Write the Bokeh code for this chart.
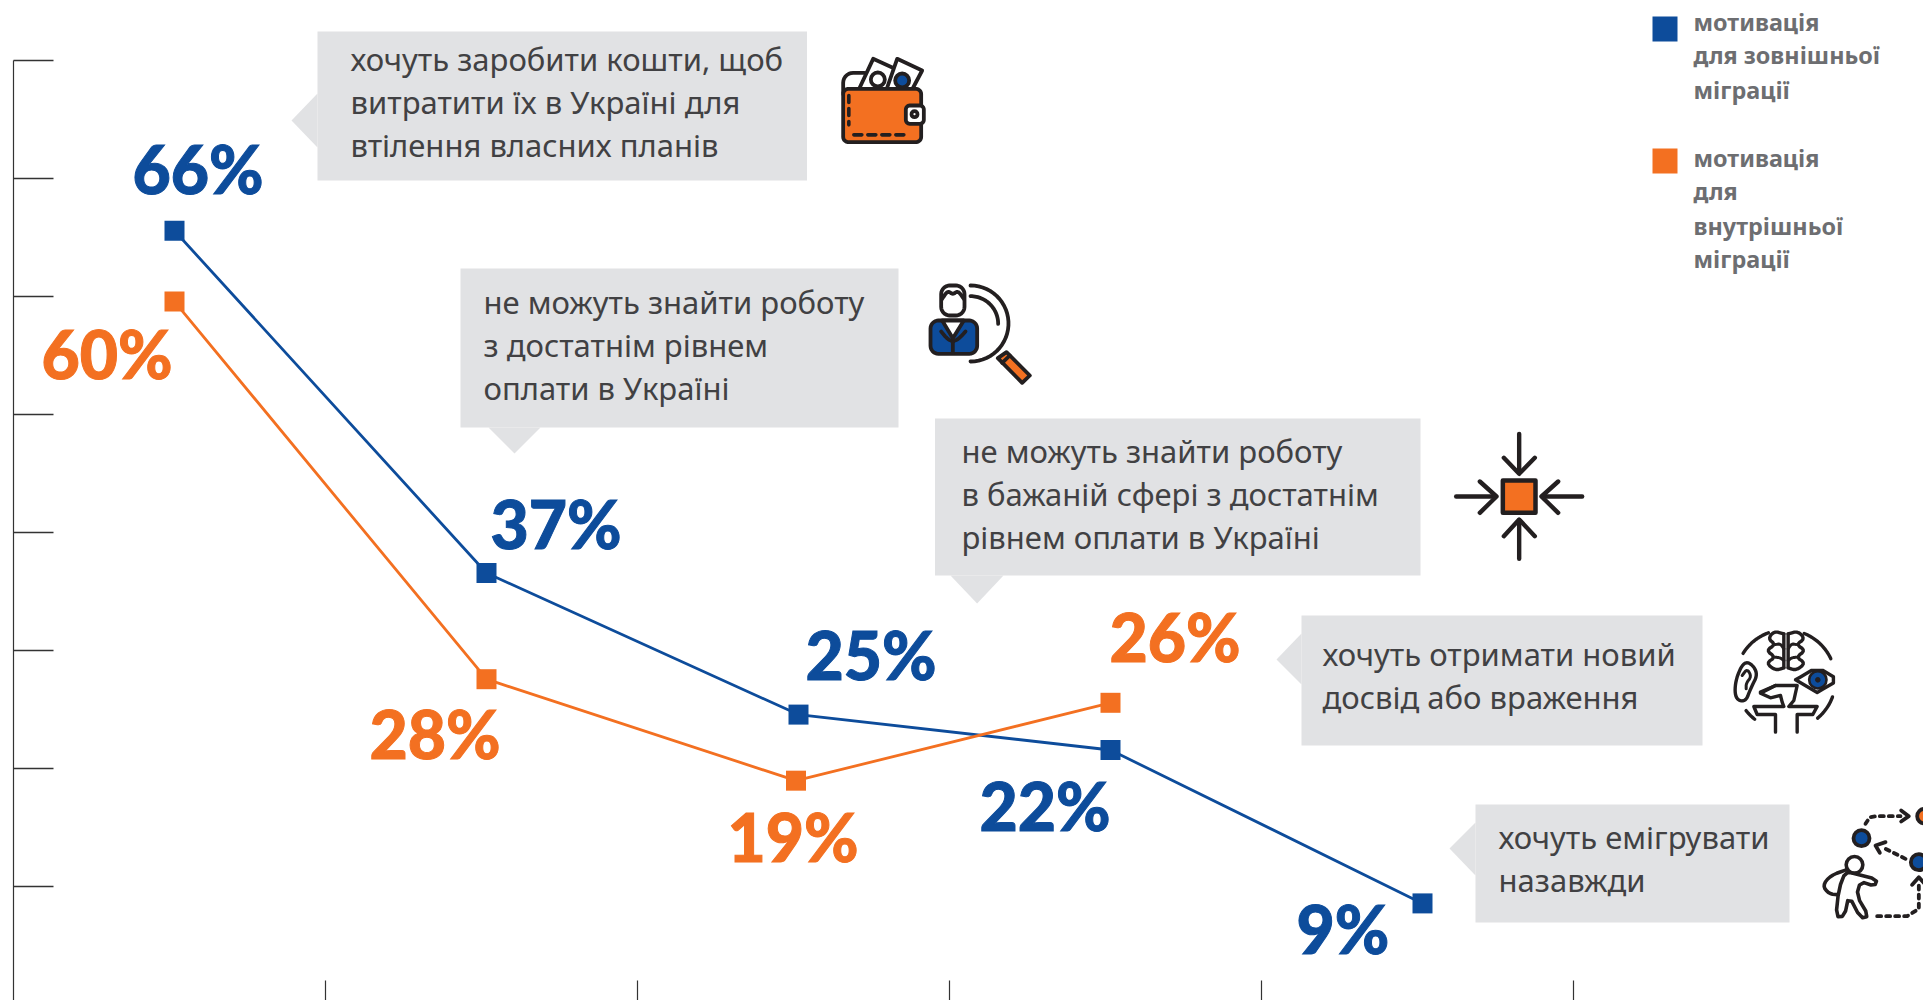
import numpy as np
from bokeh.plotting import figure
from bokeh.models import Range1d, FixedTicker, CustomLabelingPolicy
from bokeh.core.properties import value
from bokeh.embed import file_html
from bokeh.resources import INLINE

# ---------- data ----------
steps_external = [0, 1, 2, 3, 4]
values_external = [66, 37, 25, 22, 9]
labels_external = ["66%", "37%", "25%", "22%", "9%"]
steps_internal = [0, 1, 1.992, 3]
values_internal = [60, 28, 19.4, 26]
labels_internal = ["60%", "28%", "19%", "26%"]
y_ticks = [10.44, 20.44, 30.44, 40.44, 50.44, 60.44, 70.44, 80.44]
x_ticks = [0.484, 1.484, 2.484, 3.484, 4.484]
callouts = [
    ["хочуть заробити кошти, щоб", "витратити їх в Україні для", "втілення власних планів"],
    ["не можуть знайти роботу", "з достатнім рівнем", "оплати в Україні"],
    ["не можуть знайти роботу", "в бажаній сфері з достатнім", "рівнем оплати в Україні"],
    ["хочуть отримати новий", "досвід або враження"],
    ["хочуть емігрувати", "назавжди"],
]
legend_external = ["мотивація", "для зовнішньої", "міграції"]
legend_internal = ["мотивація", "для", "внутрішньої", "міграції"]

BLUE = "#0d4c9b"
ORANGE = "#f37021"
GREY = "#e1e2e4"
INK = "#231f20"
TXT = "#414143"
LEG = "#6d6e71"
BODY_FONT = value("Noto Sans")
NUM_FONT = value("Lato Black")
BASE_SHIFT = 0.41  # bokeh's svg alphabetic line sits this many em below y

W, H = 1923, 1000
X0, DX = 174.0, 312.0
Y66, DY = 230.3, 11.8
xl, xr = (0 - X0) / DX, (W - X0) / DX
yt, yb = 66 + Y66 / DY, 66 - (H - Y66) / DY
def PX(a): return (np.asarray(a, float) - X0) / DX
def PY(a): return 66 - (np.asarray(a, float) - Y66) / DY

p = figure(width=W, height=H, output_backend="svg", toolbar_location=None,
           x_range=Range1d(xl, xr), y_range=Range1d(yb, yt),
           min_border=0, outline_line_color=None, background_fill_color="white",
           border_fill_color="white")
p.grid.visible = False

for ax, ticks in ((p.yaxis[0], y_ticks), (p.xaxis[0], x_ticks)):
    ax.ticker = FixedTicker(ticks=ticks)
    ax.major_label_policy = CustomLabelingPolicy(code="if (false) yield 0;")
    ax.minor_tick_line_color = None
    ax.major_tick_out = 0
    ax.major_tick_line_color = "#333333"
    ax.major_label_standoff = 0
p.yaxis[0].fixed_location = float(PX(13))
p.yaxis[0].bounds = (yb, y_ticks[-1])
p.yaxis[0].major_tick_in = 40
p.yaxis[0].major_tick_line_width = 1.5
p.yaxis[0].axis_line_color = "#333333"
p.yaxis[0].axis_line_width = 1.2
p.xaxis[0].fixed_location = yb
p.xaxis[0].axis_line_color = None
p.xaxis[0].major_tick_in = 20
p.xaxis[0].major_tick_line_width = 1.2

def label(xs, ys, txt, size, color, font, bold=False, outline=None):
    p.text(x=list(PX(xs)), y=list(PY(ys)), text=txt, text_font=font,
           text_font_style="bold" if bold else "normal", text_font_size=f"{size}px",
           text_color=color, text_baseline="alphabetic", text_align="left",
           y_offset=-BASE_SHIFT * size, text_outline_color=outline)

# ---------- callouts ----------
boxes = [
    ((317, 806.5, 31, 180), [(317, 93), (291, 120), (317, 147)], 350, [71, 114, 157]),
    ((460, 898, 268, 427), [(488, 427), (514, 453), (540, 427)], 483, [314, 357, 400]),
    ((934.5, 1420, 418, 575), [(950, 575), (976.6, 603), (1003, 575)], 961, [463, 506, 549]),
    ((1301, 1702, 615, 745), [(1301, 633), (1276, 659), (1301, 684)], 1322, [666, 709]),
    ((1475, 1789, 804, 922), [(1475, 822), (1449, 848), (1475, 875)], 1498, [849, 892]),
]
for (l, r, t, b), tri, tx, bases in boxes:
    p.quad(left=[PX(l)], right=[PX(r)], top=[PY(t)], bottom=[PY(b)], fill_color=GREY, line_color=None)
    p.patch(PX([q[0] for q in tri]), PY([q[1] for q in tri]), fill_color=GREY, line_color=None)
for (box, tri, tx, bases), lines in zip(boxes, callouts):
    label([tx] * len(lines), bases, lines, 31, TXT, BODY_FONT)

# ---------- series ----------
p.line(steps_external, values_external, line_color=BLUE, line_width=2.8)
p.line(steps_internal, values_internal, line_color=ORANGE, line_width=2.8)
p.scatter(steps_external, values_external, marker="square", size=20, fill_color=BLUE, line_color=None)
p.scatter(steps_internal, values_internal, marker="square", size=20, fill_color=ORANGE, line_color=None)

ext_pos = [(132, 195), (490, 550), (805, 681), (979, 832), (1296, 955)]
int_pos = [(41, 380), (369, 760), (727, 863), (1109, 663)]
for pos, labs, col in ((ext_pos, labels_external, BLUE), (int_pos, labels_internal, ORANGE)):
    label([q[0] for q in pos], [q[1] for q in pos], labs, 66, col, NUM_FONT, bold=True, outline=col)

# ---------- legend ----------
for (t, b), col in (((16, 41), BLUE), ((148, 173), ORANGE)):
    p.quad(left=[PX(1652)], right=[PX(1677)], top=[PY(t)], bottom=[PY(b)], fill_color=col, line_color=None)
for lines, bases in ((legend_external, [31, 64, 99]), (legend_internal, [167, 200, 235, 268])):
    label([1693] * len(lines), bases, lines, 23.4, LEG, BODY_FONT, bold=True)

# ---------- icons (crop pixels / 3 + origin) ----------
def icon(ox, oy):
    def cv(pts):
        a = np.array(pts, float)
        return PX(ox + a[:, 0] / 3), PY(oy + a[:, 1] / 3)
    def stroke(pts, w=3.8, col=INK, dash="solid"):
        x, y = cv(pts)
        p.line(x, y, line_color=col, line_width=w, line_dash=dash, line_cap="round", line_join="round")
    def fill(pts, col, w=3.8):
        x, y = cv(pts)
        p.patch(x, y, fill_color=col, line_color=INK, line_width=w, line_join="round")
    def dot(cx, cy, r, col, w=3.8):
        x, y = cv([(cx, cy)])
        p.scatter(x, y, marker="circle", size=2 * r / 3, fill_color=col, line_color=INK, line_width=w)
    return stroke, fill, dot

def arc(cx, cy, r, a0, a1, n=30):
    t = np.radians(np.linspace(a0, a1, n))
    return list(zip(cx + r * np.cos(t), cy + r * np.sin(t)))

def rrect(l, t, r, b, rad):
    return (arc(l + rad, t + rad, rad, 180, 270, 8) + arc(r - rad, t + rad, rad, 270, 360, 8)
            + arc(r - rad, b - rad, rad, 0, 90, 8) + arc(l + rad, b - rad, rad, 90, 180, 8))

def smooth(pts, closed=False, n=3):
    a = np.array(pts, float)
    for _ in range(n):
        b = np.vstack([a, a[:1]]) if closed else a
        q = 0.75 * b[:-1] + 0.25 * b[1:]
        r = 0.25 * b[:-1] + 0.75 * b[1:]
        c = np.empty((2 * len(q), 2))
        c[0::2], c[1::2] = q, r
        a = c if closed else np.vstack([pts[0], c, pts[-1]])
    return [tuple(v) for v in a] + ([tuple(a[0])] if closed else [])

# wallet
s, f, d = icon(830, 45)
f(rrect(38, 82, 130, 170, 30), "white")
f([(85, 132), (128, 40), (205, 75), (178, 132)], "white")
f([(168, 132), (200, 40), (275, 75), (245, 132)], "white")
d(142, 102, 21, "white")
d(215, 105, 21, BLUE)
f(rrect(38, 130, 272, 290, 16), ORANGE)
f(rrect(226, 180, 280, 235, 12), "white")
d(252, 206, 9, "white")
s([(55, 150), (55, 238)], 3.6, INK, "7 6")
s([(70, 268), (222, 268)], 3.6, INK, "8 6")

# job search
s, f, d = icon(920, 275)
f(rrect(62, 30, 132, 120, 26), "white")
s(smooth([(65, 70), (82, 45), (97, 58), (112, 45), (130, 70)]))
f(rrect(30, 135, 170, 235, 24), BLUE)
f([(65, 135), (97, 188), (130, 135)], "white")
s(smooth([(62, 168), (80, 190), (97, 198)]))
s(smooth([(135, 168), (115, 190), (97, 198)]))
s([(97, 200), (97, 232)])
s(arc(150, 144, 114, -90, 90))
s(arc(150, 145, 83, -90, 0))
f([(232, 248), (258, 230), (328, 300), (305, 322)], ORANGE)
s([(245, 262), (268, 240)], 3.8)

# arrows
s, f, d = icon(1445, 425)
f([(172, 165), (270, 165), (270, 262), (172, 262)], ORANGE, 4.5)
for a, h in (([(221, 25), (221, 140)], [(175, 97), (221, 145), (268, 97)]),
             ([(221, 400), (221, 285)], [(175, 332), (221, 282), (268, 332)]),
             ([(32, 213), (150, 213)], [(103, 168), (153, 213), (103, 262)]),
             ([(410, 213), (290, 213)], [(338, 168), (288, 213), (338, 262)])):
    s(a, 4.4)
    s(h, 4.4)

# senses
s, f, d = icon(1725, 620)
s(arc(180, 178, 150, 212, 250), 3.4)
s(arc(180, 178, 150, 292, 335), 3.4)
s(arc(180, 178, 150, 20, 50), 3.4)
s(arc(180, 178, 150, 128, 142), 3.4)
left_lobe = [(175, 40), (145, 32), (128, 55), (150, 72), (122, 90), (150, 110), (122, 128), (150, 150), (175, 142)]
right_lobe = [(188, 40), (218, 32), (238, 55), (212, 72), (240, 90), (212, 110), (240, 128), (212, 150), (188, 142)]
s(smooth(left_lobe, n=2), 3.4)
s(smooth(right_lobe, n=2), 3.4)
s([(175, 40), (175, 142)], 3.4)
s([(188, 40), (188, 142)], 3.4)
s(smooth([(150, 72), (165, 70), (175, 85)], n=2), 3)
s(smooth([(212, 72), (198, 70), (188, 85)], n=2), 3)
s(smooth([(150, 110), (165, 112), (175, 120)], n=2), 3)
s(smooth([(212, 110), (198, 112), (188, 120)], n=2), 3)
s(smooth([(30, 175), (60, 115), (100, 155), (75, 205), (60, 245), (28, 235)], closed=True), 3.4)
s(smooth([(50, 165), (65, 145), (78, 168), (62, 188), (62, 205)], n=2), 3)
f(smooth([(210, 178), (275, 140), (340, 178), (275, 216)], n=1), "white", 3.4)
d(277, 178, 26, BLUE, 2.6)
d(277, 178, 7, INK, 1)
s([(105, 215), (150, 195), (215, 195), (205, 240), (190, 258), (275, 258), (262, 282), (215, 282), (215, 335)], 3.4)
s([(150, 195), (105, 218), (135, 232), (165, 225), (170, 245), (175, 258), (85, 258), (95, 282), (150, 282), (150, 335)], 3.4)

# emigrate
s, f, d = icon(1810, 795)
s([(165, 85), (178, 65), (200, 62), (270, 62)], 3.8, INK, "4 5")
s([(272, 45), (295, 62), (272, 78)], 3.8)
d(342, 62, 22, ORANGE, 3.8)
d(153, 128, 24, BLUE, 3.8)
d(325, 200, 24, BLUE, 3.8)
s([(285, 190), (215, 155)], 3.8, INK, "4 5")
s([(225, 140), (195, 150), (208, 172)], 3.8)
s([(200, 362), (290, 362), (325, 340), (325, 268)], 3.8, INK, "4 5")
s([(305, 268), (325, 245), (345, 268)], 3.8)
s(smooth([(110, 222), (60, 240), (36, 270), (55, 295), (85, 298)], n=2), 3.6)
f(smooth([(105, 228), (135, 235), (200, 252), (192, 272), (150, 258), (138, 300), (175, 362), (150, 368),
   (115, 300), (102, 362), (76, 364), (85, 280)], closed=True, n=1), "white", 3.6)
d(132, 208, 25, "white", 3.6)

open("out.html", "w").write(file_html(p, INLINE))
